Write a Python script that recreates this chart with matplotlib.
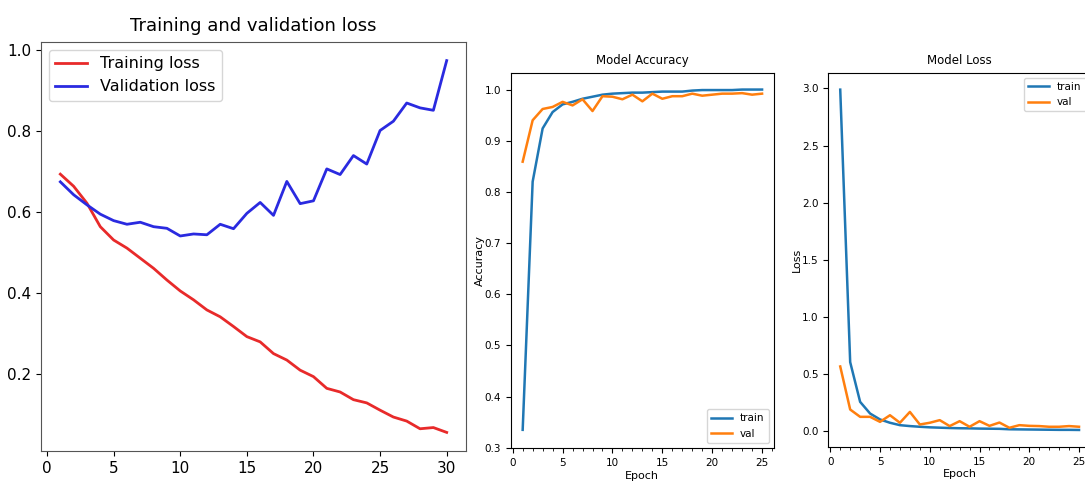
import numpy as np
import matplotlib
matplotlib.use("Agg")
import matplotlib.pyplot as plt
from matplotlib.ticker import MultipleLocator

# left panel: training / validation loss (30 epochs)
epochs_a = list(range(1, 31))
train_loss_a = [0.694, 0.664, 0.622, 0.564, 0.531, 0.511, 0.486, 0.461, 0.432, 0.405,
                0.383, 0.358, 0.341, 0.317, 0.292, 0.279, 0.250, 0.234, 0.209, 0.193,
                0.164, 0.155, 0.136, 0.128, 0.110, 0.093, 0.083, 0.064, 0.067, 0.055]
val_loss_a = [0.675, 0.643, 0.618, 0.595, 0.579, 0.570, 0.575, 0.564, 0.560, 0.541,
              0.546, 0.544, 0.570, 0.559, 0.597, 0.624, 0.592, 0.676, 0.621, 0.628,
              0.707, 0.693, 0.740, 0.719, 0.802, 0.825, 0.870, 0.858, 0.852, 0.975]

# middle / right panels (25 epochs)
epochs_b = list(range(1, 26))
train_acc = [0.335, 0.820, 0.924, 0.956, 0.971, 0.976, 0.982, 0.986, 0.990, 0.992,
             0.993, 0.994, 0.994, 0.995, 0.996, 0.996, 0.996, 0.998, 0.999, 0.999,
             0.999, 0.999, 1.000, 1.000, 1.000]
val_acc = [0.859, 0.940, 0.962, 0.966, 0.976, 0.969, 0.981, 0.958, 0.987, 0.986,
           0.981, 0.990, 0.977, 0.992, 0.982, 0.987, 0.987, 0.992, 0.988, 0.990,
           0.992, 0.992, 0.993, 0.990, 0.992]
train_loss_b = [2.99, 0.604, 0.256, 0.154, 0.102, 0.073, 0.052, 0.044, 0.038, 0.033,
                0.030, 0.027, 0.025, 0.024, 0.022, 0.021, 0.020, 0.016, 0.015, 0.014,
                0.013, 0.012, 0.011, 0.011, 0.010]
val_loss_b = [0.566, 0.189, 0.125, 0.125, 0.081, 0.139, 0.073, 0.168, 0.058, 0.073,
              0.096, 0.044, 0.087, 0.038, 0.087, 0.046, 0.075, 0.029, 0.052, 0.046,
              0.044, 0.038, 0.038, 0.044, 0.038]

fig = plt.figure(figsize=(10.85, 4.9), dpi=100)

# left
ax1 = fig.add_axes([0.0378, 0.0796, 0.3917, 0.8347])
ax1.plot(epochs_a, train_loss_a, color="#e82a2a", lw=2, label="Training loss")
ax1.plot(epochs_a, val_loss_a, color="#2a2ae0", lw=2, label="Validation loss")
ax1.set_title("Training and validation loss", fontsize=13, pad=8)
ax1.tick_params(labelsize=11)
ax1.legend(fontsize=11.5, loc="upper left")
for s in ax1.spines.values():
    s.set_color("#555555")

# middle
ax2 = fig.add_axes([0.4707, 0.0857, 0.2427, 0.766])
ax2.plot(epochs_b, train_acc, color="#1f77b4", lw=1.8, label="train")
ax2.plot(epochs_b, val_acc, color="#ff7f0e", lw=1.8, label="val")
ax2.set_ylim(0.2995, 1.033)
ax2.set_title("Model Accuracy", fontsize=8.5)
ax2.set_xlabel("Epoch", fontsize=8, labelpad=2)
ax2.set_ylabel("Accuracy", fontsize=8, labelpad=0)
ax2.xaxis.set_minor_locator(MultipleLocator(1))
ax2.tick_params(labelsize=7.5)
ax2.legend(fontsize=7.5, loc="lower right")

# right
ax3 = fig.add_axes([0.7634, 0.0878, 0.2421, 0.764])
ax3.plot(epochs_b, train_loss_b, color="#1f77b4", lw=1.8, label="train")
ax3.plot(epochs_b, val_loss_b, color="#ff7f0e", lw=1.8, label="val")
ax3.set_title("Model Loss", fontsize=8.5)
ax3.set_xlabel("Epoch", fontsize=8, labelpad=2)
ax3.set_ylabel("Loss", fontsize=8, labelpad=0)
ax3.xaxis.set_minor_locator(MultipleLocator(1))
ax3.tick_params(labelsize=7.5)
ax3.legend(fontsize=7.5, loc="upper right")

fig.savefig("out.png", dpi=100)
